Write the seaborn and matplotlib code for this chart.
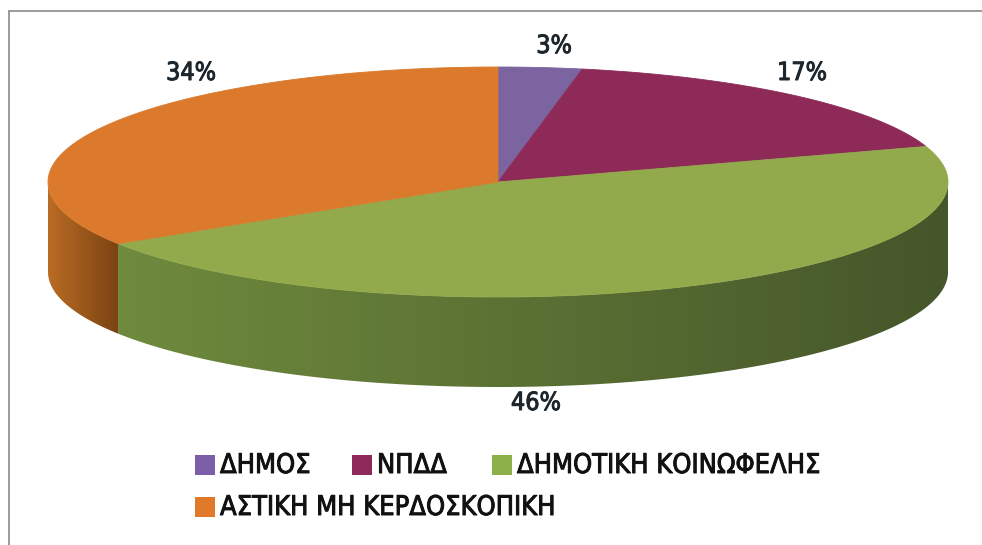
import numpy as np
import matplotlib
matplotlib.use("Agg")
import matplotlib.pyplot as plt
import matplotlib.patheffects as pe
from matplotlib import font_manager
from matplotlib.patches import Polygon, Rectangle
from matplotlib.colors import to_rgb
import seaborn as sns

# Data
categories = ["ΔΗΜΟΣ", "ΝΠΔΔ", "ΔΗΜΟΤΙΚΗ ΚΟΙΝΩΦΕΛΗΣ", "ΑΣΤΙΚΗ ΜΗ ΚΕΡΔΟΣΚΟΠΙΚΗ"]
shares = [3, 17, 46, 34]
pct_labels = ["3%", "17%", "46%", "34%"]

sns.set_theme(style="white")
plt.rcParams["font.family"] = ["DejaVu Sans"]

# pick a narrow sans face if one is installed
narrow = None
for f in font_manager.fontManager.ttflist:
    if ("Condensed" in f.fname or "Narrow" in f.fname) and f.weight in (400, "normal", "regular", "book") \
            and f.style == "normal" and "Bold" not in f.fname:
        if narrow is None or "DejaVuSansCondensed.ttf" in f.fname or "LiberationSansNarrow-Regular" in f.fname:
            narrow = f.fname
FONT = font_manager.FontProperties(fname=narrow) if narrow else font_manager.FontProperties(family="DejaVu Sans")

top_colors = sns.color_palette(["#7B64A0", "#8E2A58", "#92AA4C", "#DB7A2C"])
legend_colors = sns.color_palette(["#7B5EA7", "#8E2A5A", "#8DB04A", "#E07A2A"])
# side-wall gradients (left -> right)
wall_grad = {
    0: ("#5E4A7C", "#4A3A62"),
    1: ("#6E2044", "#561834"),
    2: ("#6F8A3D", "#45562A"),
    3: ("#BA6C24", "#7A4313"),
}

W, H = 982, 545
fig = plt.figure(figsize=(W / 100, H / 100), dpi=100)
ax = fig.add_axes([0, 0, 1, 1])
ax.set_xlim(0, W)
ax.set_ylim(H, 0)
ax.axis("off")

# pie geometry (pixel space)
cx, cy = 498, 182
ra, rb = 450, 115
depth = 90


def arc(t0, t1, n=200, dy=0.0):
    t = np.radians(np.linspace(t0, t1, n))
    return np.column_stack([cx + ra * np.cos(t), cy - rb * np.sin(t) + dy])


vals = np.array(shares, dtype=float)
frac = vals / vals.sum()
ends = np.cumsum(frac)
starts = ends - frac
# slices run clockwise from 12 o'clock
theta_start = 90 - 360 * starts
theta_end = 90 - 360 * ends

# front walls: visible where the angle lies in the lower half
for i in range(len(shares)):
    lo, hi = theta_end[i], theta_start[i]
    segs = []
    for shift in (-360, 0, 360):
        s0, s1 = max(lo + shift, -180), min(hi + shift, 0)
        if s1 > s0:
            segs.append((s0, s1))
    for s0, s1 in segs:
        top = arc(s0, s1)
        bot = arc(s1, s0, dy=depth)
        verts = np.vstack([top, bot, top[:1]])
        poly = Polygon(verts, closed=True, facecolor="none", edgecolor="none")
        ax.add_patch(poly)
        xmin, xmax = verts[:, 0].min(), verts[:, 0].max()
        ymin, ymax = verts[:, 1].min(), verts[:, 1].max()
        c0, c1 = np.array(to_rgb(wall_grad[i][0])), np.array(to_rgb(wall_grad[i][1]))
        g = np.linspace(0, 1, 256)[None, :, None]
        img = c0 + (c1 - c0) * g
        im = ax.imshow(np.repeat(img, 2, axis=0), extent=(xmin, xmax, ymax, ymin),
                       aspect="auto", interpolation="bilinear", zorder=1)
        im.set_clip_path(poly)

# top faces
for i in range(len(shares)):
    pts = arc(theta_start[i], theta_end[i], n=300)
    verts = np.vstack([[cx, cy], pts])
    ax.add_patch(Polygon(verts, closed=True, facecolor=top_colors[i],
                         edgecolor=top_colors[i], linewidth=0.6, zorder=3))

# percentage labels
label_pos = [(554, 46), (802, 73), (536, 403), (191, 73)]
for txt, (lx, ly) in zip(pct_labels, label_pos):
    ax.text(lx, ly, txt, ha="center", va="center", fontproperties=FONT,
            fontsize=18, color="#1c262c", zorder=5,
            path_effects=[pe.withStroke(linewidth=0.7, foreground="#1c262c")])

# legend
legend_rows = [(195, 465), (352, 465), (492, 465), (195, 507)]
for i, (lx, ly) in enumerate(legend_rows):
    ax.add_patch(Rectangle((lx, ly - 10), 20, 20, facecolor=legend_colors[i],
                           edgecolor="none", zorder=5))
    ax.text(lx + 25, ly + 1, categories[i], ha="left", va="center",
            fontproperties=FONT, fontsize=19.5, color="#111111", zorder=5,
            path_effects=[pe.withStroke(linewidth=0.7, foreground="#111111")])

# frame
ax.plot([9, W], [11, 11], color="#8a8a8a", lw=1.2, zorder=6)
ax.plot([9, 9], [11, H], color="#8a8a8a", lw=1.2, zorder=6)

fig.savefig("out.png", dpi=100)
